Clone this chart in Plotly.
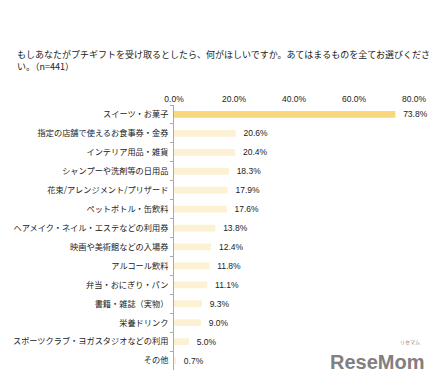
import plotly.graph_objects as go

categories = [
    "スイーツ・お菓子",
    "指定の店舗で使えるお食事券・金券",
    "インテリア用品・雑貨",
    "シャンプーや洗剤等の日用品",
    "花束/アレンジメント/プリザード",
    "ペットボトル・缶飲料",
    "ヘアメイク・ネイル・エステなどの利用券",
    "映画や美術館などの入場券",
    "アルコール飲料",
    "弁当・おにぎり・パン",
    "書籍・雑誌（実物）",
    "栄養ドリンク",
    "スポーツクラブ・ヨガスタジオなどの利用",
    "その他",
]
values = [73.8, 20.6, 20.4, 18.3, 17.9, 17.6, 13.8, 12.4, 11.8, 11.1, 9.3, 9.0, 5.0, 0.7]
tick_vals = [0, 20, 40, 60, 80]
tick_text = ["0.0%", "20.0%", "40.0%", "60.0%", "80.0%"]
title_text = "もしあなたがプチギフトを受け取るとしたら、何がほしいですか。あてはまるものを全てお選びくださ<br>い。（n=441）"

colors = ["#F9D77C"] + ["#FDF1D4"] * (len(values) - 1)

JP = "Noto Sans CJK JP, sans-serif"
NUM = "Liberation Sans, Arial, sans-serif"
W, H = 421, 365          # page body has an 8px margin
L, R, T, B = 166, 15, 97, 3
PW = W - L - R
PH = H - T - B

fig = go.Figure(go.Bar(
    x=values,
    y=categories,
    orientation="h",
    marker=dict(color=colors, line=dict(width=0)),
    text=["  " + f"{v:.1f}%" for v in values],
    textposition="outside",
    constraintext="none",
    textfont=dict(family=NUM, size=8.5, color="#222"),
    cliponaxis=False,
    width=0.36,
))

fig.update_layout(
    width=W, height=H,
    margin=dict(l=L, r=R, t=T, b=B, autoexpand=False),
    paper_bgcolor="white", plot_bgcolor="white",
    showlegend=False,
    font=dict(family=JP, size=9, color="#222"),
)
fig.update_xaxes(
    side="top", range=[0, 80], tickvals=tick_vals, ticktext=tick_text,
    showgrid=False, zeroline=False, showline=False, ticks="",
    tickfont=dict(family=NUM, size=8.5, color="#222"),
    automargin=False,
)
fig.update_yaxes(
    autorange="reversed", showgrid=False, zeroline=False,
    showline=True, linecolor="#AAAAAA", linewidth=1,
    ticks="outside", tickson="boundaries", ticklen=3, tickcolor="#AAAAAA",
    tickfont=dict(family=JP, size=8.2, color="#222"),
    ticklabelstandoff=3, automargin=False,
)

fig.add_annotation(
    xref="paper", yref="paper", x=(7 - L) / PW, y=1 + (T - 38) / PH,
    xanchor="left", yanchor="top", align="left", showarrow=False,
    text=title_text, font=dict(family=JP, size=9, color="#222"),
)
fig.add_annotation(
    xref="paper", yref="paper", x=(418 - L) / PW, y=(T + PH - 354) / PH,
    xanchor="right", yanchor="middle", showarrow=False,
    text="<b>ReseMom</b>", font=dict(family=NUM, size=20, color="#808080"),
)
fig.add_annotation(
    xref="paper", yref="paper", x=(414 - L) / PW, y=(T + PH - 334) / PH,
    xanchor="right", yanchor="middle", showarrow=False,
    text="リセマム", font=dict(family=JP, size=5, color="#808080"),
)

fig.write_html("out.html")
